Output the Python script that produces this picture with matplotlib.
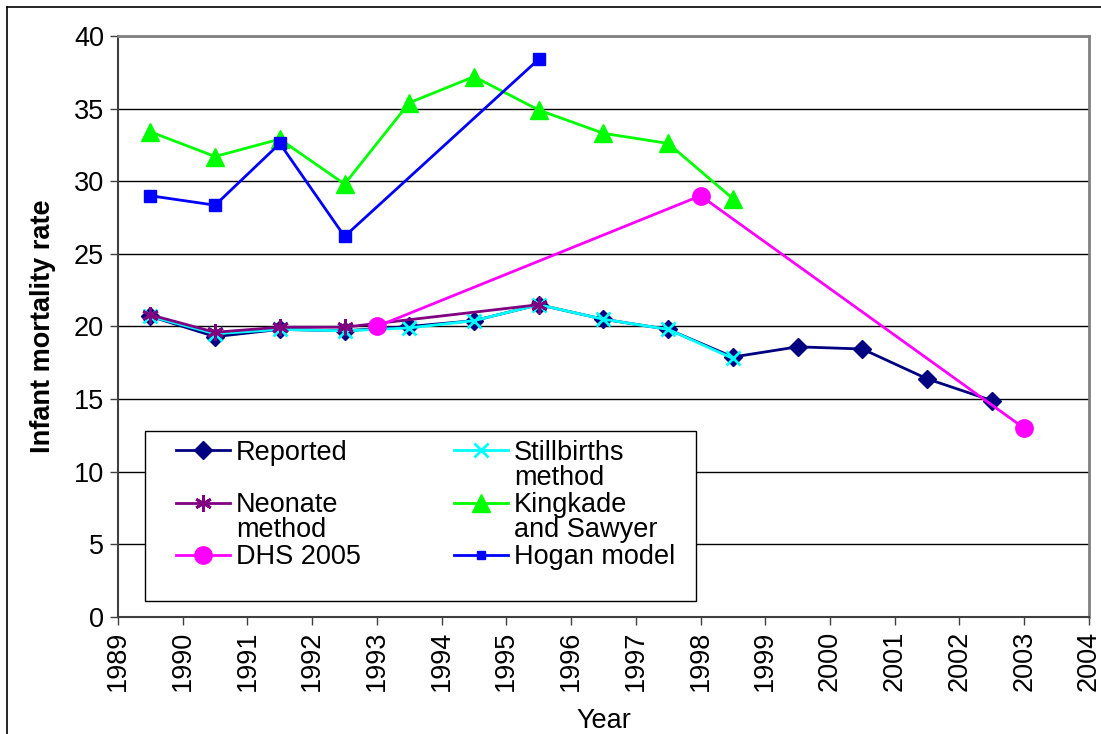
import numpy as np
import matplotlib.pyplot as plt
from matplotlib.lines import Line2D
from matplotlib.patches import Rectangle

plt.rcParams['font.family'] = ['Liberation Sans', 'DejaVu Sans']

# Data
years_half = [1989.5, 1990.5, 1991.5, 1992.5, 1993.5, 1994.5, 1995.5,
              1996.5, 1997.5, 1998.5, 1999.5, 2000.5, 2001.5, 2002.5]
reported = [20.7, 19.3, 19.8, 19.7, 20.0, 20.4, 21.5,
            20.5, 19.8, 17.9, 18.6, 18.45, 16.4, 14.9]

still_years = years_half[:10]
stillbirths = [20.7, 19.5, 19.8, 19.7, 19.9, 20.4, 21.5, 20.5, 19.8, 17.8]

neo_years = [1989.5, 1990.5, 1991.5, 1992.5, 1995.5]
neonate = [20.8, 19.6, 19.95, 19.95, 21.5]

king_years = years_half[:10]
kingkade = [33.4, 31.7, 32.9, 29.8, 35.4, 37.2, 34.9, 33.3, 32.6, 28.8]

hogan_years = [1989.5, 1990.5, 1991.5, 1992.5, 1995.5]
hogan = [29.0, 28.35, 32.6, 26.2, 38.4]

dhs_years = [1993.0, 1998.0, 2003.0]
dhs = [20.0, 29.0, 13.0]

xticks = list(range(1989, 2005))
yticks = list(range(0, 41, 5))

fs = 19.5

fig = plt.figure(figsize=(11.01, 7.34), dpi=100)
ax = fig.add_axes([0.1072, 0.1594, 0.8818, 0.7916])

lw = 2.0
styles = {
    'Reported': dict(color='#000080', marker='D', ms=9.5, lw=lw),
    'Stillbirths': dict(color='#00FFFF', marker='x', ms=10, mew=2, lw=lw),
    'Neonate': dict(color='#800080', marker=(6, 2, 0), ms=12, mew=2, lw=lw),
    'Kingkade': dict(color='#00FF00', marker='^', ms=12.5, lw=lw),
    'Hogan': dict(color='#0000FF', marker='s', ms=8, lw=lw),
    'DHS': dict(color='#FF00FF', marker='o', ms=12.5, lw=lw),
}

ax.plot(years_half, reported, zorder=4, **styles['Reported'])
ax.plot(still_years, stillbirths, zorder=5, **styles['Stillbirths'])
ax.plot(neo_years, neonate, zorder=6, **styles['Neonate'])
ax.plot(king_years, kingkade, zorder=7, **styles['Kingkade'])
ax.plot(hogan_years, hogan, zorder=8, **styles['Hogan'])
ax.plot(dhs_years, dhs, zorder=9, **styles['DHS'])

ax.set_xlim(1989, 2004)
ax.set_ylim(0, 40)
ax.set_xticks(xticks)
ax.set_xticklabels([str(y) for y in xticks], rotation=90, fontsize=fs)
ax.set_yticks(yticks)
ax.set_yticklabels([str(y) for y in yticks], fontsize=fs)
ax.tick_params(direction='out', length=6, width=1, color='#404040', pad=4)
ax.yaxis.grid(True, color='black', lw=1)
ax.set_axisbelow(True)

for side in ['top', 'right']:
    ax.spines[side].set_color('#808080')
    ax.spines[side].set_linewidth(2)
for side in ['left', 'bottom']:
    ax.spines[side].set_color('#404040')
    ax.spines[side].set_linewidth(1.5)

ax.set_ylabel('Infant mortality rate', fontsize=fs, fontweight='bold', labelpad=13)
ax.set_xlabel('Year', fontsize=fs, labelpad=12)

# legend box
box = Rectangle((0.0278, 0.0275), 0.568, 0.293, transform=ax.transAxes,
                facecolor='white', edgecolor='black', lw=1, zorder=10)
ax.add_patch(box)

def handle(key, **kw):
    st = dict(styles[key])
    st.update(kw)
    return Line2D([], [], **st)

col1 = [(handle('Reported'), 'Reported', None),
        (handle('Neonate'), 'Neonate', 'method'),
        (handle('DHS'), 'DHS 2005', None)]
col2 = [(handle('Stillbirths'), 'Stillbirths', 'method'),
        (handle('Kingkade'), 'Kingkade', 'and Sawyer'),
        (handle('Hogan', ms=6), 'Hogan model', None)]

legs = []
for i, (col, x0) in enumerate([(col1, 0.0597), (col2, 0.346)]):
    leg = ax.legend([c[0] for c in col], [c[1] for c in col], loc='upper left',
                    bbox_to_anchor=(x0, 0.305), frameon=False, fontsize=fs,
                    handlelength=2.0, handletextpad=0.22, labelspacing=0.97,
                    borderpad=0, borderaxespad=0)
    leg.set_zorder(11)
    if i == 0:
        ax.add_artist(leg)  # keep first column, the second stays as ax.legend_
    legs.append((leg, col))

# second lines of the wrapped legend labels
fig.canvas.draw()
inv = fig.transFigure.inverted()
for leg, col in legs:
    for t, c in zip(leg.get_texts(), col):
        if c[2]:
            bb = t.get_window_extent()
            x, y = inv.transform((bb.x0, bb.y0 - 25))
            fig.text(x, y, c[2], fontsize=fs, ha='left', va='bottom', zorder=12)

# outer chart border
fig.add_artist(Line2D([0.0064, 0.0064], [0, 0.99], color='black', lw=1.2,
                      transform=fig.transFigure))
fig.add_artist(Line2D([0.0064, 1.0], [0.99, 0.99], color='black', lw=1.2,
                      transform=fig.transFigure))

fig.savefig('out.png', dpi=100)
